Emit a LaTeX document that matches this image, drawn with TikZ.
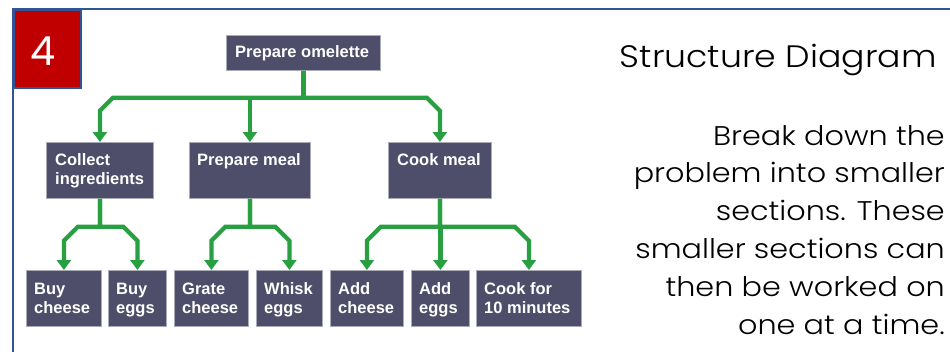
\documentclass[tikz,border=0pt]{standalone}
\usepackage{fontspec}
\setmainfont{Poppins}
\newfontfamily\sidefont{Poppins Light}[FakeStretch=1.12]
\newfontfamily\boxfont{Liberation Sans}
\usetikzlibrary{arrows.meta,calc}
\definecolor{boxfill}{RGB}{79,78,106}
\definecolor{boxedge}{RGB}{170,170,185}
\definecolor{conngreen}{RGB}{40,160,65}
\definecolor{frameblue}{RGB}{47,85,151}
\definecolor{numred}{RGB}{192,0,0}
\tikzset{
 sbox/.style={fill=boxfill, draw=boxedge, line width=0.8pt, anchor=north west, inner sep=0pt},
 stext/.style={anchor=base west, inner sep=0pt, text=white, font=\boxfont\bfseries\fontsize{16.5}{19.5}\selectfont},
 conn/.style={draw=conngreen, line width=4.2pt, -{Triangle[width=14pt,length=10pt]}},
}
\newcommand\twol[2]{\begin{tabular}[t]{@{}l@{}}#1\\#2\end{tabular}}
\begin{document}
\begin{tikzpicture}[x=1pt,y=-1pt]
\useasboundingbox (0,0) rectangle (950,351);
% frame
\draw[frameblue, line width=2pt] (951,9) -- (13,9) -- (13,352);
\node[fill=numred, draw=frameblue, line width=1.5pt, minimum width=67pt, minimum height=78pt, anchor=north west, inner sep=0pt] (numbox) at (13,9) {};
\node[anchor=base, inner sep=0pt, text=white, font=\fontsize{40}{40}\selectfont] (four) at (43,65) {4};

% boxes
\node[sbox, minimum width=154pt, minimum height=35pt] (po) at (226,35) {};
\node[sbox, minimum width=107pt, minimum height=56pt] (ci) at (46,142) {};
\node[sbox, minimum width=121pt, minimum height=56pt] (pm) at (189,142) {};
\node[sbox, minimum width=103pt, minimum height=56pt] (cm) at (388,142) {};
\node[sbox, minimum width=75pt, minimum height=56pt] (bc) at (26,270) {};
\node[sbox, minimum width=58pt, minimum height=56pt] (be) at (108,270) {};
\node[sbox, minimum width=74pt, minimum height=56pt] (gc) at (174,270) {};
\node[sbox, minimum width=66pt, minimum height=56pt] (we) at (256,270) {};
\node[sbox, minimum width=73pt, minimum height=56pt] (ac) at (330,270) {};
\node[sbox, minimum width=58pt, minimum height=56pt] (ae) at (411,270) {};
\node[sbox, minimum width=105pt, minimum height=56pt] (cf) at (476,270) {};

% box texts
\node[stext] (pot) at ([shift={(9,22)}]po.north west) {Prepare omelette};
\node[stext] (cit) at ([shift={(9,23)}]ci.north west) {\twol{Collect}{ingredients}};
\node[stext] (pmt) at ([shift={(8,23)}]pm.north west) {Prepare meal};
\node[stext] (cmt) at ([shift={(9,23)}]cm.north west) {Cook meal};
\node[stext] (bct) at ([shift={(8,24)}]bc.north west) {\twol{Buy}{cheese}};
\node[stext] (bet) at ([shift={(8,24)}]be.north west) {\twol{Buy}{eggs}};
\node[stext] (gct) at ([shift={(8,24)}]gc.north west) {\twol{Grate}{cheese}};
\node[stext] (wet) at ([shift={(8,24)}]we.north west) {\twol{Whisk}{eggs}};
\node[stext] (act) at ([shift={(8,24)}]ac.north west) {\twol{Add}{cheese}};
\node[stext] (aet) at ([shift={(8,24)}]ae.north west) {\twol{Add}{eggs}};
\node[stext] (cft) at ([shift={(8,24)}]cf.north west) {\twol{Cook for}{10 minutes}};

% connectors level 1
\coordinate (j1) at ($(po.south)+(0,27)$);
\draw[conn] (po.south) |- ($(ci.north |- j1)+(13,0)$) -- ($(ci.north |- j1)+(0,13)$) -- (ci.north);
\draw[conn] (po.south) |- (pm.north |- j1) -- (pm.north);
\draw[conn] (po.south) |- ($(cm.north |- j1)+(-13,0)$) -- ($(cm.north |- j1)+(0,13)$) -- (cm.north);

% connectors level 2
\coordinate (j2) at ($(ci.south)+(0,28)$);
\draw[conn] (ci.south) |- ($(bc.north |- j2)+(14,0)$) -- ($(bc.north |- j2)+(0,14)$) -- (bc.north);
\draw[conn] (ci.south) |- ($(be.north |- j2)+(-14,0)$) -- ($(be.north |- j2)+(0,14)$) -- (be.north);
\coordinate (j3) at ($(pm.south)+(0,28)$);
\draw[conn] (pm.south) |- ($(gc.north |- j3)+(14,0)$) -- ($(gc.north |- j3)+(0,14)$) -- (gc.north);
\draw[conn] (pm.south) |- ($(we.north |- j3)+(-14,0)$) -- ($(we.north |- j3)+(0,14)$) -- (we.north);
\coordinate (j4) at ($(cm.south)+(0,28)$);
\draw[conn] (cm.south) |- ($(ac.north |- j4)+(14,0)$) -- ($(ac.north |- j4)+(0,14)$) -- (ac.north);
\draw[conn] (cm.south) |- (ae.north |- j4) -- (ae.north);
\draw[conn] (cm.south) |- ($(cf.north |- j4)+(-14,0)$) -- ($(cf.north |- j4)+(0,14)$) -- (cf.north);

% right texts
\node[anchor=base east, inner sep=0pt, font=\sidefont\fontsize{31}{36}\selectfont] (title) at (937,67) {Structure Diagram};
\node[anchor=base east, inner sep=0pt, font=\sidefont\fontsize{27}{37.8}\selectfont] (desc) at (945,145) {\begin{tabular}[t]{@{}r@{}}Break down the\\problem into smaller\\sections. These\\smaller sections can\\then be worked on\\one at a time.\end{tabular}};
\end{tikzpicture}
\end{document}
